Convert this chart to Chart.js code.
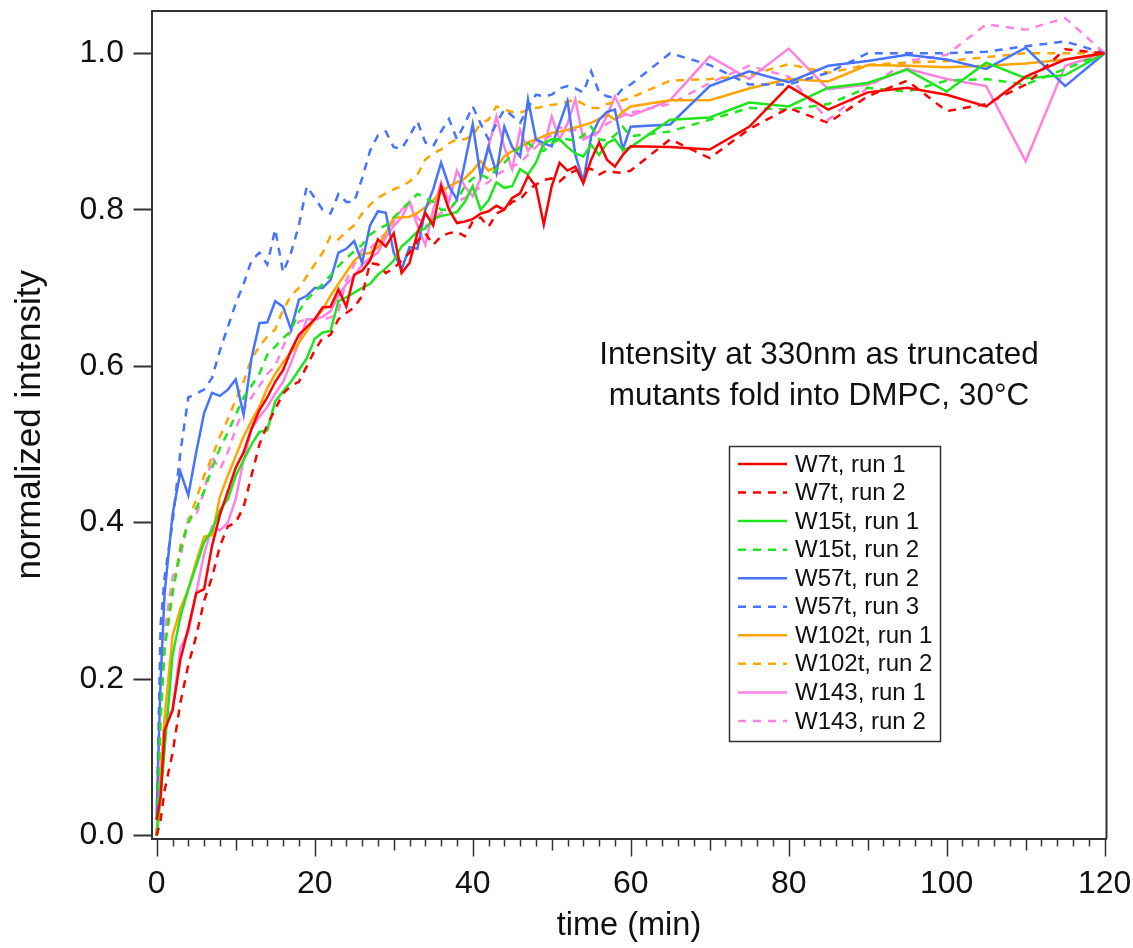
<!DOCTYPE html>
<html>
<head>
<meta charset="utf-8">
<script src="https://cdn.jsdelivr.net/npm/chart.js@4.4.0/dist/chart.umd.min.js"></script>
<style>
  html, body { margin: 0; padding: 0; background: #fff; }
  #wrap { width: 1133px; height: 948px; }
</style>
</head>
<body>
<div id="wrap"><canvas id="chart" width="1133" height="948"></canvas></div>
<script>
// --- data ---
const times = [0, 0.5, 1, 2, 3, 4, 5, 6, 7, 8,
  9, 10, 11, 12, 13, 14, 15, 16, 17, 18,
  19, 20, 21, 22, 23, 24, 25, 26, 27, 28,
  29, 30, 31, 32, 33, 34, 35, 36, 37, 38,
  39, 40, 41, 42, 43, 44, 45, 46, 47, 48,
  49, 50, 51, 52, 53, 54, 55, 56, 57, 58,
  59, 60, 65, 70, 75, 80, 85, 90, 95, 100,
  105, 110, 115, 120];

const xTicks = [0, 20, 40, 60, 80, 100, 120];
const yTicks = [0, 0.2, 0.4, 0.6, 0.8, 1.0];

const seriesLabels = ['W7t, run 1', 'W7t, run 2', 'W15t, run 1', 'W15t, run 2', 'W57t, run 2',
  'W57t, run 3', 'W102t, run 1', 'W102t, run 2', 'W143, run 1', 'W143, run 2'];

const w7Run1 = [0.02, 0.05, 0.135, 0.16, 0.225, 0.265, 0.31, 0.315, 0.37, 0.41,
  0.44, 0.47, 0.49, 0.52, 0.544, 0.56, 0.58, 0.595, 0.62, 0.64,
  0.65, 0.66, 0.675, 0.676, 0.698, 0.676, 0.717, 0.722, 0.735, 0.762,
  0.753, 0.77, 0.719, 0.732, 0.77, 0.796, 0.78, 0.83, 0.80, 0.783,
  0.785, 0.788, 0.795, 0.798, 0.805, 0.80, 0.815, 0.821, 0.843, 0.83,
  0.781, 0.83, 0.86, 0.85, 0.855, 0.834, 0.864, 0.886, 0.864, 0.855,
  0.87, 0.881, 0.88, 0.877, 0.906, 0.958, 0.928, 0.95, 0.956, 0.947,
  0.932, 0.97, 0.992, 1.0];

const w7Run2 = [0.0, 0.02, 0.058, 0.105, 0.17, 0.218, 0.255, 0.30, 0.33, 0.37,
  0.395, 0.40, 0.42, 0.46, 0.50, 0.525, 0.545, 0.565, 0.575, 0.58,
  0.60, 0.62, 0.636, 0.64, 0.66, 0.668, 0.675, 0.69, 0.732, 0.73,
  0.719, 0.725, 0.735, 0.745, 0.76, 0.77, 0.755, 0.766, 0.77, 0.772,
  0.766, 0.785, 0.79, 0.778, 0.795, 0.80, 0.81, 0.813, 0.825, 0.832,
  0.838, 0.84, 0.836, 0.845, 0.85, 0.852, 0.852, 0.845, 0.85, 0.848,
  0.847, 0.85, 0.89, 0.866, 0.903, 0.93, 0.911, 0.945, 0.965, 0.926,
  0.935, 0.96, 1.005, 1.0];

const w15Run1 = [0.0, 0.05, 0.11, 0.23, 0.28, 0.315, 0.345, 0.375, 0.39, 0.416,
  0.43, 0.46, 0.48, 0.50, 0.516, 0.518, 0.555, 0.568, 0.58, 0.595,
  0.61, 0.635, 0.643, 0.645, 0.683, 0.688, 0.694, 0.70, 0.705, 0.717,
  0.725, 0.735, 0.753, 0.762, 0.772, 0.776, 0.788, 0.792, 0.794, 0.797,
  0.81, 0.83, 0.80, 0.812, 0.835, 0.828, 0.83, 0.852, 0.845, 0.86,
  0.885, 0.89, 0.89, 0.88, 0.872, 0.868, 0.883, 0.87, 0.885, 0.89,
  0.876, 0.88, 0.915, 0.918, 0.937, 0.932, 0.956, 0.962, 0.979, 0.951,
  0.988, 0.968, 0.972, 1.0];

const w15Run2 = [0.0, 0.15, 0.24, 0.31, 0.365, 0.40, 0.418, 0.44, 0.47, 0.495,
  0.515, 0.538, 0.56, 0.575, 0.59, 0.615, 0.625, 0.636, 0.645, 0.67,
  0.685, 0.695, 0.705, 0.716, 0.728, 0.738, 0.747, 0.755, 0.768, 0.775,
  0.78, 0.79, 0.80, 0.81, 0.82, 0.815, 0.81, 0.80, 0.80, 0.812,
  0.83, 0.84, 0.845, 0.84, 0.852, 0.86, 0.87, 0.88, 0.885, 0.878,
  0.875, 0.885, 0.89, 0.89, 0.888, 0.895, 0.906, 0.89, 0.888, 0.895,
  0.906, 0.894, 0.90, 0.915, 0.93, 0.928, 0.935, 0.956, 0.951, 0.965,
  0.967, 0.96, 0.98, 1.0];

const w57Run2 = [0.03, 0.20, 0.31, 0.41, 0.465, 0.435, 0.49, 0.54, 0.566, 0.562,
  0.57, 0.583, 0.538, 0.61, 0.655, 0.656, 0.683, 0.676, 0.647, 0.685,
  0.69, 0.70, 0.70, 0.71, 0.745, 0.75, 0.76, 0.732, 0.78, 0.798,
  0.796, 0.745, 0.724, 0.752, 0.75, 0.80, 0.826, 0.86, 0.83, 0.813,
  0.86, 0.909, 0.843, 0.881, 0.847, 0.906, 0.88, 0.868, 0.941, 0.89,
  0.885, 0.881, 0.91, 0.939, 0.87, 0.836, 0.894, 0.915, 0.925, 0.928,
  0.877, 0.906, 0.909, 0.958, 0.977, 0.963, 0.984, 0.99, 0.998, 0.992,
  0.98, 1.007, 0.958, 1.0];

const w57Run3 = [0.02, 0.27, 0.33, 0.40, 0.49, 0.56, 0.565, 0.57, 0.585, 0.62,
  0.65, 0.68, 0.705, 0.735, 0.745, 0.73, 0.775, 0.72, 0.745, 0.78,
  0.83, 0.815, 0.80, 0.795, 0.82, 0.81, 0.81, 0.84, 0.875, 0.895,
  0.90, 0.88, 0.878, 0.894, 0.913, 0.886, 0.881, 0.90, 0.916, 0.89,
  0.91, 0.932, 0.91, 0.89, 0.91, 0.928, 0.92, 0.911, 0.93, 0.947,
  0.945, 0.947, 0.955, 0.958, 0.955, 0.95, 0.977, 0.95, 0.945, 0.943,
  0.955, 0.96, 1.0, 0.985, 0.96, 0.96, 0.975, 1.0, 1.0, 1.0,
  1.002, 1.009, 1.015, 1.0];

const w102Run1 = [0.0, 0.08, 0.15, 0.255, 0.29, 0.315, 0.35, 0.382, 0.384, 0.433,
  0.46, 0.485, 0.51, 0.53, 0.548, 0.572, 0.59, 0.605, 0.618, 0.63,
  0.645, 0.66, 0.672, 0.69, 0.705, 0.72, 0.735, 0.743, 0.745, 0.752,
  0.77, 0.79, 0.79, 0.791, 0.796, 0.803, 0.812, 0.823, 0.83, 0.835,
  0.84, 0.85, 0.862, 0.85, 0.855, 0.868, 0.875, 0.88, 0.886, 0.89,
  0.894, 0.898, 0.90, 0.902, 0.905, 0.908, 0.911, 0.916, 0.922, 0.915,
  0.925, 0.932, 0.94, 0.94, 0.955, 0.967, 0.964, 0.985, 0.984, 0.982,
  0.984, 0.987, 0.992, 1.0];

const w102Run2 = [0.02, 0.18, 0.24, 0.31, 0.37, 0.40, 0.43, 0.46, 0.484, 0.51,
  0.532, 0.557, 0.58, 0.61, 0.625, 0.638, 0.647, 0.672, 0.69, 0.70,
  0.715, 0.73, 0.745, 0.766, 0.762, 0.772, 0.78, 0.795, 0.806, 0.815,
  0.821, 0.826, 0.83, 0.836, 0.845, 0.864, 0.872, 0.877, 0.885, 0.89,
  0.89, 0.895, 0.91, 0.915, 0.932, 0.928, 0.925, 0.924, 0.928, 0.93,
  0.932, 0.934, 0.935, 0.938, 0.941, 0.935, 0.93, 0.93, 0.935, 0.938,
  0.94, 0.943, 0.965, 0.967, 0.972, 0.986, 0.975, 0.985, 0.988, 0.99,
  0.995, 1.0, 1.0, 1.0];

const w143Run1 = [0.0, 0.06, 0.15, 0.16, 0.24, 0.26, 0.31, 0.36, 0.395, 0.39,
  0.40, 0.43, 0.48, 0.52, 0.535, 0.548, 0.565, 0.58, 0.604, 0.63,
  0.66, 0.66, 0.663, 0.67, 0.69, 0.705, 0.715, 0.73, 0.738, 0.745,
  0.765, 0.779, 0.79, 0.81, 0.78, 0.755, 0.80, 0.835, 0.81, 0.85,
  0.83, 0.817, 0.84, 0.88, 0.919, 0.88, 0.852, 0.902, 0.875, 0.89,
  0.88, 0.919, 0.89, 0.91, 0.941, 0.89, 0.895, 0.90, 0.92, 0.945,
  0.924, 0.92, 0.94, 0.996, 0.967, 1.006, 0.954, 0.96, 0.98, 0.967,
  0.958, 0.862, 0.984, 1.0];

const w143Run2 = [0.0, 0.16, 0.26, 0.33, 0.355, 0.405, 0.41, 0.44, 0.484, 0.468,
  0.49, 0.52, 0.545, 0.56, 0.575, 0.59, 0.60, 0.625, 0.645, 0.657,
  0.66, 0.66, 0.66, 0.662, 0.67, 0.71, 0.73, 0.749, 0.75, 0.76,
  0.77, 0.785, 0.80, 0.81, 0.79, 0.779, 0.785, 0.796, 0.80, 0.81,
  0.815, 0.82, 0.83, 0.835, 0.845, 0.85, 0.855, 0.86, 0.87, 0.88,
  0.89, 0.895, 0.906, 0.90, 0.902, 0.895, 0.89, 0.90, 0.91, 0.915,
  0.92, 0.924, 0.935, 0.962, 0.984, 0.97, 0.915, 0.956, 0.99, 0.998,
  1.037, 1.03, 1.045, 1.0];

const seriesValues = [w7Run1, w7Run2, w15Run1, w15Run2, w57Run2,
  w57Run3, w102Run1, w102Run2, w143Run1, w143Run2];

const noteLines = ['Intensity at 330nm as truncated', 'mutants fold into DMPC, 30\u00B0C'];

// --- styles ---
const RED = 'rgb(255,0,0)';
const GREEN = 'rgb(30,230,30)';
const BLUE = 'rgb(70,115,255)';
const ORANGE = 'rgb(255,165,0)';
const PINK = 'rgb(255,130,225)';
const seriesColors = [RED, RED, GREEN, GREEN, BLUE, BLUE, ORANGE, ORANGE, PINK, PINK];
const DASH = [8, 7];
const FONT = "'Liberation Sans', Arial, sans-serif";
const INK = '#111';
const AXIS = '#333';

const datasets = seriesValues.map((vals, i) => ({
    label: seriesLabels[i],
    data: times.map((t, j) => ({ x: t, y: vals[j] })),
    borderColor: seriesColors[i],
    borderWidth: 2.5,
    borderDash: i % 2 === 1 ? DASH : [],
    pointRadius: 0,
    fill: false,
    tension: 0
}));

// white page behind the chart
const background = {
    id: 'background',
    beforeDraw(chart) {
        const ctx = chart.ctx;
        ctx.save();
        ctx.fillStyle = '#fff';
        ctx.fillRect(0, 0, chart.width, chart.height);
        ctx.restore();
    }
};

// top/right frame lines and the minor ticks on the time axis
const frame = {
    id: 'frame',
    afterDraw(chart) {
        const { ctx, chartArea: a } = chart;
        const xs = chart.scales.x;
        ctx.save();
        ctx.strokeStyle = AXIS;
        ctx.lineWidth = 2;
        ctx.beginPath();
        ctx.moveTo(a.left, a.top);
        ctx.lineTo(a.right, a.top);
        ctx.lineTo(a.right, a.bottom);
        ctx.stroke();
        ctx.lineWidth = 1.5;
        ctx.beginPath();
        for (let t = 0; t <= 120; t += 2) {
            const px = Math.round(xs.getPixelForValue(t)) + 0.5;
            const len = t % 20 === 0 ? 18 : (t % 10 === 0 ? 12 : 8);
            ctx.moveTo(px, a.bottom);
            ctx.lineTo(px, a.bottom + len);
        }
        ctx.stroke();
        ctx.restore();
    }
};

// two-line note inside the plot
const note = {
    id: 'note',
    afterDraw(chart) {
        const ctx = chart.ctx;
        ctx.save();
        ctx.font = `31.5px ${FONT}`;
        ctx.fillStyle = INK;
        ctx.textAlign = 'center';
        ctx.textBaseline = 'middle';
        noteLines.forEach((line, i) => ctx.fillText(line, 819, 355 + i * 41));
        ctx.restore();
    }
};

// boxed legend in the lower right
const boxLegend = {
    id: 'boxLegend',
    afterDraw(chart) {
        const ctx = chart.ctx;
        ctx.save();
        ctx.strokeStyle = AXIS;
        ctx.lineWidth = 1.5;
        ctx.strokeRect(729.5, 446.5, 211, 295);
        ctx.font = `24px ${FONT}`;
        ctx.textBaseline = 'middle';
        chart.data.datasets.forEach((ds, i) => {
            const y = 464 + i * 28.55;
            ctx.strokeStyle = ds.borderColor;
            ctx.lineWidth = 2.5;
            ctx.setLineDash(ds.borderDash);
            ctx.beginPath();
            ctx.moveTo(738, y);
            ctx.lineTo(787, y);
            ctx.stroke();
            ctx.setLineDash([]);
            ctx.fillStyle = INK;
            ctx.fillText(ds.label, 795, y + 1);
        });
        ctx.restore();
    }
};

new Chart(document.getElementById('chart'), {
    type: 'line',
    data: { datasets },
    options: {
        responsive: false,
        animation: false,
        devicePixelRatio: 1,
        layout: { padding: { left: 0, top: 11, right: 26.5, bottom: 0 } },
        plugins: {
            legend: { display: false },
            tooltip: { enabled: false }
        },
        scales: {
            x: {
                type: 'linear',
                position: 'bottom',
                min: -0.66,
                max: 120.23,
                afterBuildTicks: s => { s.ticks = xTicks.map(v => ({ value: v })); },
                afterFit: s => {
                    s.height = 109.5;
                    s.paddingLeft = 0; s.paddingRight = 0; s.paddingTop = 0; s.paddingBottom = 0;
                },
                ticks: {
                    autoSkip: false,
                    maxRotation: 0,
                    padding: 8,
                    color: INK,
                    font: { family: FONT, size: 32 }
                },
                grid: { drawOnChartArea: false, drawTicks: true, tickLength: 18, tickColor: 'rgba(0,0,0,0)' },
                border: { display: true, color: AXIS, width: 2 },
                title: {
                    display: true,
                    text: 'time (min)',
                    color: INK,
                    font: { family: FONT, size: 32.5 },
                    padding: { top: 2, bottom: 2 }
                }
            },
            y: {
                type: 'linear',
                position: 'left',
                min: -0.0038,
                max: 1.054,
                afterBuildTicks: s => { s.ticks = yTicks.map(v => ({ value: v })); },
                afterFit: s => {
                    s.width = 151.5;
                    s.paddingLeft = 0; s.paddingRight = 0; s.paddingTop = 0; s.paddingBottom = 0;
                },
                ticks: {
                    autoSkip: false,
                    padding: 9.5,
                    color: INK,
                    font: { family: FONT, size: 32 },
                    callback: v => Number(v).toFixed(1)
                },
                grid: { drawOnChartArea: false, drawTicks: true, tickLength: 18, tickColor: AXIS, tickWidth: 2 },
                border: { display: true, color: AXIS, width: 2 },
                title: {
                    display: true,
                    text: 'normalized intensity',
                    color: INK,
                    font: { family: FONT, size: 35 },
                    padding: { top: 9, bottom: 0 }
                }
            }
        }
    },
    plugins: [background, frame, note, boxLegend]
});
</script>
</body>
</html>
